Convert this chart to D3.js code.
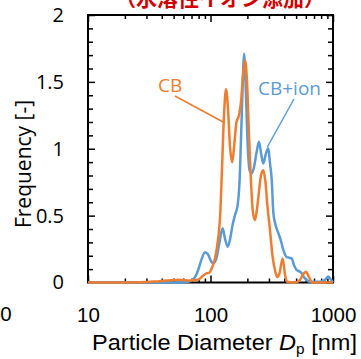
<!DOCTYPE html>
<html>
<head>
<meta charset="utf-8">
<script src="https://cdn.jsdelivr.net/npm/d3@7"></script>
<style>
  body { margin: 0; background: #fff; }
  svg { display: block; }
</style>
</head>
<body>
<svg id="chart" width="361" height="359"></svg>
<script>
// particle diameter [nm] and frequency
const cbDiam = [10, 22, 38.7, 56.4, 68, 79.1, 86.9, 93.1, 97.2, 102.8, 108.8, 115.1, 119.6, 124.1, 128.9, 133.8,
  138.9, 144.2, 150.7, 157, 163, 170.9, 177.4, 184.2, 192, 198.6, 206.2, 214.1, 222.3, 230.8, 239.6, 248.8,
  258.3, 269.8, 281, 291.8, 306, 320.7, 336.4, 351, 365.9, 388, 405.6, 421, 489.5, 538, 579.9, 602, 637, 674, 1000];
const cbFreq = [0, 0, 0.01, 0.02, 0.015, 0.02, 0.05, 0.07, 0.072, 0.11, 0.18, 0.32, 0.48, 0.85, 1.25, 1.444,
  1.30, 1.02, 0.90, 1.05, 1.20, 1.25, 1.35, 1.55, 1.66, 1.50, 1.10, 0.75, 0.52, 0.467, 0.55, 0.68,
  0.80, 0.84, 0.75, 0.57, 0.39, 0.20, 0.09, 0.04, 0.07, 0.18, 0.06, 0.005, 0, 0.02, 0.07, 0.08, 0.04, 0, 0];

const ionDiam = [10, 56.4, 65.5, 73.3, 79.1, 83.6, 90.2, 95.5, 101, 104.8, 110.9, 117.3, 125.8, 131.2, 138,
  144.2, 151.4, 158.5, 166.7, 172.5, 179.2, 184.2, 187.7, 193.2, 200.6, 208.2, 216.7, 226.3, 237.4, 248.8,
  259.3, 269.8, 282.6, 296.5, 306, 316, 326, 339.6, 357.6, 376.4, 392.9, 418.7, 441.3, 460, 480.4, 505.6,
  527.5, 555, 580, 609.4, 648.8, 783.6, 860.6, 916.1, 963.4, 1000];
const ionFreq = [0, 0, 0.005, 0.03, 0.09, 0.16, 0.226, 0.21, 0.16, 0.143, 0.17, 0.28, 0.405, 0.33, 0.268,
  0.32, 0.43, 0.505, 0.58, 0.75, 1.2, 1.55, 1.71, 1.50, 1.05, 0.84, 0.816, 0.86, 0.97, 1.053,
  0.96, 0.89, 0.96, 1.003, 0.89, 0.77, 0.52, 0.43, 0.37, 0.31, 0.243, 0.19, 0.185, 0.18, 0.13, 0.093,
  0.085, 0.069, 0.04, 0.02, 0.005, 0.005, 0.02, 0.045, 0.02, 0];

const xMajor = [10, 100, 1000];
const yMajor = [0, 0.5, 1, 1.5, 2];
const seriesNames = ["CB", "CB+ion"];
const titleText = "（水溶性イオン添加）";
const strayLabels = ["0"];

const orange = "#ED7D31", blue = "#5B9BD5";

const svg = d3.select("#chart");
const plotL = 88, plotR = 333, plotT = 15, plotB = 282.5;

const x = d3.scaleLog().domain([10, 1000]).range([plotL, plotR]);
const y = d3.scaleLinear().domain([0, 2]).range([plotB, plotT]);

// title (cut by the top edge, as in the source)
svg.append("text")
  .attr("x", 220).attr("y", 6)
  .attr("text-anchor", "middle")
  .attr("font-family", "Noto Sans CJK JP")
  .attr("font-weight", "bold")
  .attr("font-size", 21)
  .attr("fill", "#d00000")
  .text(titleText);

// ********* ticks
const xMinor = x.ticks().filter(d => !xMajor.includes(d));
const yMinor = d3.range(0, 2.0001, 0.1).map(d => +d.toFixed(1)).filter(d => !yMajor.includes(d));

function tickGroup(axis, tx, ty) {
  const g = svg.append("g").attr("transform", "translate(" + tx + "," + ty + ")").call(axis);
  g.select(".domain").remove();
  g.selectAll("line").attr("stroke", "#000").attr("stroke-width", 1.5);
  return g;
}
tickGroup(d3.axisBottom(x).tickValues(xMinor).tickSize(-4).tickFormat(""), 0, plotB);
tickGroup(d3.axisBottom(x).tickValues(xMajor).tickSize(-7).tickFormat(""), 0, plotB);
tickGroup(d3.axisTop(x).tickValues(xMinor).tickSize(-4).tickFormat(""), 0, plotT);
tickGroup(d3.axisTop(x).tickValues(xMajor).tickSize(-7).tickFormat(""), 0, plotT);
tickGroup(d3.axisLeft(y).tickValues(yMinor).tickSize(-5).tickFormat(""), plotL, 0);
tickGroup(d3.axisLeft(y).tickValues(yMajor).tickSize(-7).tickFormat(""), plotL, 0);
tickGroup(d3.axisRight(y).tickValues(yMinor).tickSize(-5).tickFormat(""), plotR, 0);
tickGroup(d3.axisRight(y).tickValues(yMajor).tickSize(-7).tickFormat(""), plotR, 0);

// tick labels
const xl = svg.append("g").attr("transform", "translate(0," + plotB + ")")
  .call(d3.axisBottom(x).tickValues(xMajor).tickSize(0).tickPadding(24.5).tickFormat(d3.format("d")));
xl.select(".domain").remove();
xl.selectAll("text").attr("font-family", "Liberation Sans").attr("font-size", 20.5).attr("fill", "#000");

const yl = svg.append("g").attr("transform", "translate(" + plotL + ",0)")
  .call(d3.axisLeft(y).tickValues(yMajor).tickSize(0).tickPadding(24).tickFormat(d => String(d)));
yl.select(".domain").remove();
yl.selectAll("text").attr("font-family", "Open Sans").attr("font-size", 20).attr("fill", "#000");

svg.selectAll(".stray").data(strayLabels).enter().append("text")
  .attr("x", 6).attr("y", 321)
  .attr("text-anchor", "middle")
  .attr("font-family", "Liberation Sans").attr("font-size", 20.5)
  .text(d => d);

// frame
svg.append("rect")
  .attr("x", plotL).attr("y", plotT)
  .attr("width", plotR - plotL).attr("height", plotB - plotT)
  .attr("fill", "none").attr("stroke", "#000").attr("stroke-width", 2);

// axis titles
svg.append("text")
  .attr("transform", "translate(31,164) rotate(-90)")
  .attr("text-anchor", "middle")
  .attr("font-family", "Open Sans").attr("font-size", 21)
  .text("Frequency [-]");

const xt = svg.append("text")
  .attr("x", 92).attr("y", 350)
  .attr("font-family", "Liberation Sans").attr("font-size", 21.5)
  .attr("textLength", 265).attr("lengthAdjust", "spacingAndGlyphs");
xt.append("tspan").text("Particle Diameter ");
xt.append("tspan").attr("font-style", "italic").text("D");
xt.append("tspan").attr("font-size", 14).attr("dy", 4).text("p");
xt.append("tspan").attr("dy", -4).text(" [nm]");

// ********* curves
const line = d3.line()
  .x(d => x(d[0]))
  .y(d => y(d[1]))
  .curve(d3.curveMonotoneX);

svg.append("path")
  .datum(d3.zip(ionDiam, ionFreq))
  .attr("fill", "none").attr("stroke", blue).attr("stroke-width", 2.5)
  .attr("stroke-linejoin", "round")
  .attr("d", line);

svg.append("path")
  .datum(d3.zip(cbDiam, cbFreq))
  .attr("fill", "none").attr("stroke", orange).attr("stroke-width", 2.5)
  .attr("stroke-linejoin", "round")
  .attr("d", line);

// labels with leader lines
svg.append("line")
  .attr("x1", 175).attr("y1", 96).attr("x2", x(133.8) - 1).attr("y2", 123)
  .attr("stroke", orange).attr("stroke-width", 1.5);
svg.append("text")
  .attr("x", 158).attr("y", 92)
  .attr("font-family", "Open Sans").attr("font-size", 19)
  .attr("fill", orange).text(seriesNames[0]);

svg.append("line")
  .attr("x1", 294).attr("y1", 99).attr("x2", x(296.5) - 1).attr("y2", 147)
  .attr("stroke", blue).attr("stroke-width", 1.5);
svg.append("text")
  .attr("x", 258).attr("y", 95)
  .attr("font-family", "Open Sans").attr("font-size", 19)
  .attr("fill", blue).text(seriesNames[1]);
</script>
</body>
</html>
